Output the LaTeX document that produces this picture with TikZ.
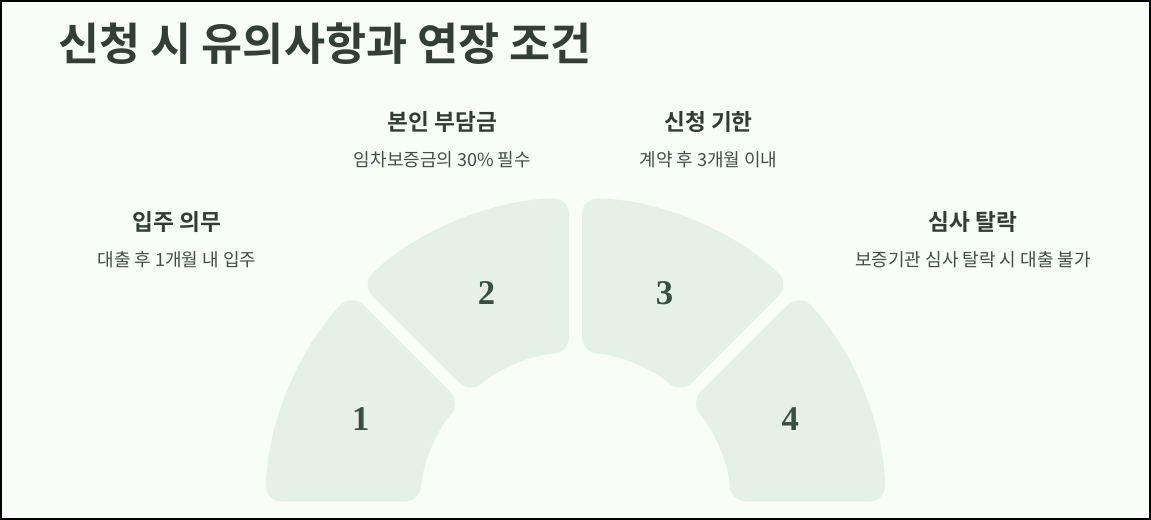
\documentclass[tikz,border=0pt]{standalone}
\usepackage{fontspec}
\setmainfont{Noto Sans CJK KR}[BoldFont={Noto Sans CJK KR Bold}]
\newfontfamily\numfont{Liberation Serif}
\usetikzlibrary{calc}
\definecolor{bgc}{HTML}{F8FDF8}
\definecolor{segc}{HTML}{E6F0E6}
\definecolor{titc}{HTML}{343D36}
\definecolor{headc}{HTML}{333B35}
\definecolor{descc}{HTML}{454B47}
\definecolor{numc}{HTML}{3A4F43}
\tikzset{
  seg/.style={fill=segc, rounded corners=12pt},
  headtxt/.style={text=headc, font=\fontsize{17}{20}\selectfont\bfseries, anchor=center, inner sep=0pt},
  desctxt/.style={text=descc, font=\fontsize{13.5}{16}\selectfont, anchor=center, inner sep=0pt},
  numtxt/.style={text=numc, font=\fontsize{26}{30}\numfont\bfseries, anchor=center, inner sep=0pt},
}
\newcommand{\sector}[3]{% name, a1, a2
  \pgfmathsetmacro{\dR}{asin(6.5/310)}
  \pgfmathsetmacro{\dr}{asin(6.5/155)}
  \fill[seg] ($(#2+\dr:155)!0.5!(#2+\dR:310)$) -- (#2+\dR:310)
     arc[start angle=#2+\dR, end angle=#3-\dR, radius=310]
     -- (#3-\dr:155)
     arc[start angle=#3-\dr, end angle=#2+\dr, radius=155]
     -- cycle;
}
\begin{document}
\begin{tikzpicture}[x=0.75pt,y=0.75pt]
\useasboundingbox (0,0) rectangle (1151,520);
\fill[bgc] (0,0) rectangle (1151,520);
\draw[black, line width=1.5pt] (1,1) rectangle (1150,519);
\node[text=titc, font=\fontsize{33.5}{40}\selectfont\bfseries, anchor=west, inner sep=0pt] (title) at (58,476.5) {신청 시 유의사항과 연장 조건};
\begin{scope}[shift={(575.5,12)}]
  \sector{s1}{135}{180}
  \sector{s2}{90}{135}
  \sector{s3}{45}{90}
  \sector{s4}{0}{45}
  \node[numtxt] (n1) at (157.5:232.5) {1};
  \node[numtxt] (n2) at (112.5:232.5) {2};
  \node[numtxt] (n3) at (67.5:232.5) {3};
  \node[numtxt] (n4) at (22.5:232.5) {4};
\end{scope}
\node[headtxt] (h1) at (177,298) {입주 의무};
\node[desctxt] (d1) at (177,260) {대출 후 1개월 내 입주};
\node[headtxt] (h2) at (442.5,398) {본인 부담금};
\node[desctxt] (d2) at (442.5,360) {임차보증금의 30\% 필수};
\node[headtxt] (h3) at (708.5,398) {신청 기한};
\node[desctxt] (d3) at (708.5,360) {계약 후 3개월 이내};
\node[headtxt] (h4) at (973,298) {심사 탈락};
\node[desctxt] (d4) at (973,260) {보증기관 심사 탈락 시 대출 불가};
\end{tikzpicture}
\end{document}
